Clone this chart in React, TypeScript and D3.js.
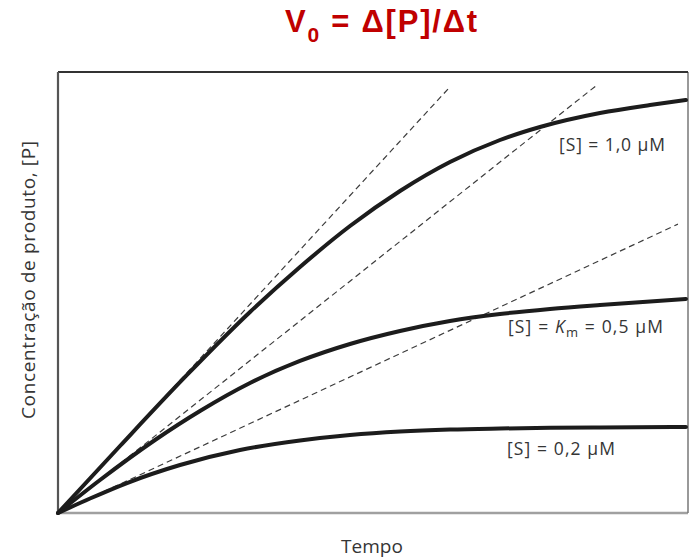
import React from "react";
import * as d3 from "d3";

// Time axis (arbitrary units) and product concentration (arbitrary units)
const timePoints1 = [0, 9.84, 20.32, 30.48, 38.41, 46.35, 54.29, 62.22, 70.16, 76.51, 86.03, 93.97, 99.68];
const product1 = [0, 15.19, 31.07, 45.58, 55.78, 65.08, 73.02, 79.59, 84.58, 87.53, 90.7, 92.52, 93.65];

const timePoints2 = [0, 6.67, 15.4, 22.54, 30.48, 38.41, 46.35, 54.29, 62.22, 70.16, 78.1, 86.03, 99.68];
const product2 = [0, 7.48, 16.55, 23.13, 29.48, 34.47, 38.32, 41.27, 43.54, 45.12, 46.26, 47.17, 48.53];

const timePoints3 = [0, 5.08, 10.95, 19.37, 28.89, 38.41, 46.35, 54.29, 62.22, 70.16, 78.1, 86.03, 99.68];
const product3 = [0, 3.29, 6.8, 10.88, 14.29, 16.44, 17.69, 18.48, 18.93, 19.16, 19.32, 19.41, 19.5];

// Initial-rate tangents: end point of each dashed line (they start at the origin)
const tangentEndTime = [62.2, 85.6, 98.4];
const tangentEndProduct = [96.6, 97.1, 65.5];

const curveLabels = ["1,0", "0,5", "0,2"];

const W = 690;
const H = 558;
const plot = { left: 58, right: 688, top: 72, bottom: 513 };

export default function App() {
  const x = d3.scaleLinear().domain([0, 100]).range([plot.left, plot.right]);
  const y = d3.scaleLinear().domain([0, 100]).range([plot.bottom, plot.top]);

  const line = d3
    .line<[number, number]>()
    .x((d) => x(d[0]))
    .y((d) => y(d[1]))
    .curve(d3.curveMonotoneX);

  const series = [
    d3.zip(timePoints1, product1) as [number, number][],
    d3.zip(timePoints2, product2) as [number, number][],
    d3.zip(timePoints3, product3) as [number, number][],
  ];

  const labelFont = "'Open Sans', 'Noto Sans', sans-serif";
  const textColor = "#353535";

  return (
    <svg
      width={W}
      height={H}
      style={{ position: "absolute", left: 0, top: 0, background: "#fff" }}
    >
      {/* Title */}
      <text
        x={285}
        y={32}
        fontFamily="'Liberation Sans', Arial, sans-serif"
        fontWeight="bold"
        fontSize={31}
        fill="#c00000"
        textLength={192}
        lengthAdjust="spacing"
      >
        V<tspan fontSize={21} dy={10}>0</tspan>
        <tspan dy={-10}> = Δ[P]/Δt</tspan>
      </text>

      {/* Frame */}
      <line x1={plot.left} x2={plot.right} y1={plot.bottom} y2={plot.bottom} stroke="#a0a0a0" strokeWidth={2.5} />
      <line x1={plot.right} x2={plot.right} y1={plot.top} y2={plot.bottom} stroke="#777" strokeWidth={1.5} />
      <line x1={plot.left} x2={plot.right} y1={plot.top} y2={plot.top} stroke="#333" strokeWidth={1.8} />
      <line x1={plot.left} x2={plot.left} y1={plot.top} y2={plot.bottom} stroke="#555" strokeWidth={2.2} />

      {/* Tangent lines */}
      {tangentEndTime.map((t, i) => (
        <line
          key={"tan" + i}
          x1={x(0)}
          y1={y(0)}
          x2={x(t)}
          y2={y(tangentEndProduct[i])}
          stroke="#3c3c3c"
          strokeWidth={1.2}
          strokeDasharray="6,4"
        />
      ))}

      {/* Progress curves */}
      {series.map((s, i) => (
        <path
          key={"curve" + i}
          d={line(s) || ""}
          fill="none"
          stroke="#1c1c1c"
          strokeWidth={4}
          strokeLinecap="round"
        />
      ))}

      {/* Curve labels */}
      <text x={559} y={151} fontFamily={labelFont} fontSize={17.5} fill={textColor} textLength={106} lengthAdjust="spacing">
        [S] = {curveLabels[0]} μM
      </text>
      <text x={508} y={333} fontFamily={labelFont} fontSize={17.5} fill={textColor} textLength={155} lengthAdjust="spacing">
        [S] = <tspan fontStyle="italic">K</tspan>
        <tspan fontSize={13} dy={4}>m</tspan>
        <tspan dy={-4}> = {curveLabels[1]} μM</tspan>
      </text>
      <text x={507} y={455} fontFamily={labelFont} fontSize={17.5} fill={textColor} textLength={108} lengthAdjust="spacing">
        [S] = {curveLabels[2]} μM
      </text>

      {/* Axis titles */}
      <text
        x={372}
        y={553}
        textAnchor="middle"
        fontFamily={labelFont}
        fontSize={19}
        fill={textColor}
      >
        Tempo
      </text>
      <text
        transform="translate(35,280) rotate(-90)"
        textAnchor="middle"
        fontFamily={labelFont}
        fontSize={19}
        fill={textColor}
        textLength={278}
        lengthAdjust="spacing"
      >
        Concentração de produto, [P]
      </text>
    </svg>
  );
}
